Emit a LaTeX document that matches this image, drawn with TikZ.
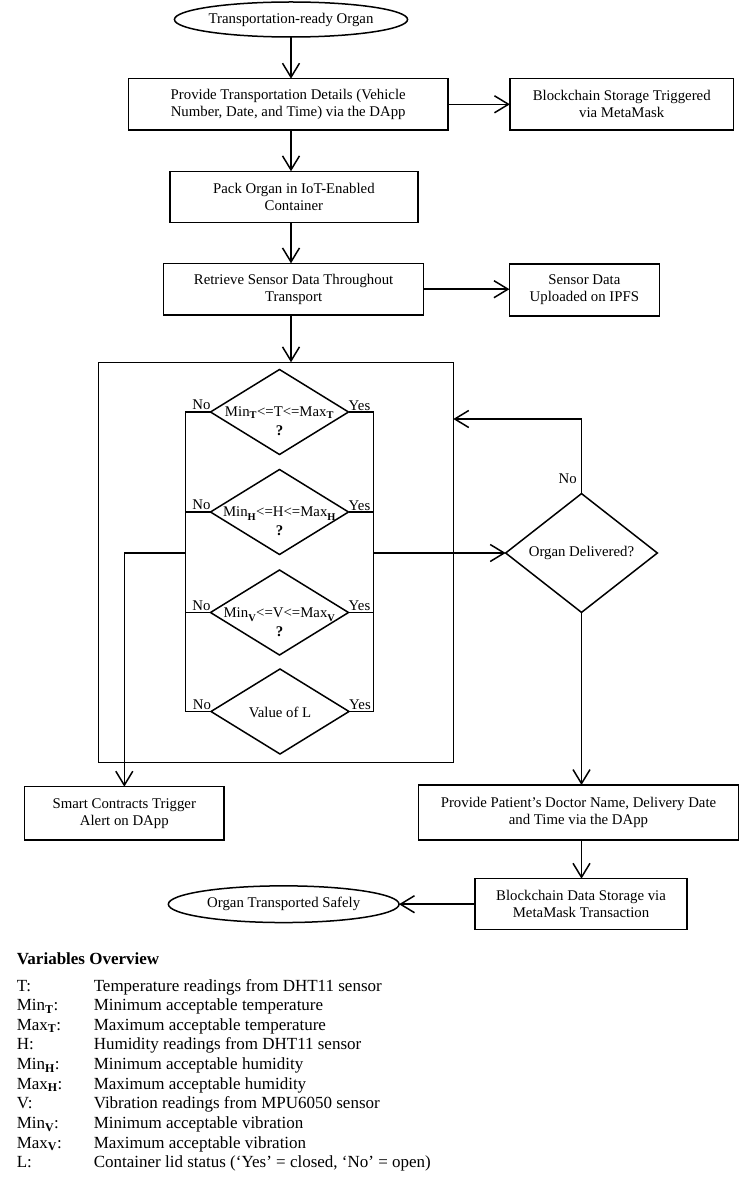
\documentclass[tikz,border=0pt]{standalone}
\usepackage{fontspec}
\setmainfont{Liberation Serif}
\usetikzlibrary{shapes.geometric,arrows.meta}
\newcommand{\sbT}[1]{\textsubscript{\textbf{#1}}}
\newcommand{\sbL}[1]{\textsubscript{\raisebox{-0.35ex}{\textbf{#1}}}}
\tikzset{
  every node/.style={font=\fontsize{14.8}{17}\selectfont},
  box/.style={draw, rectangle, align=center, inner sep=0pt, outer sep=0pt},
  term/.style={draw, ellipse, inner sep=0pt, outer sep=0pt},
  dec/.style={draw, diamond, inner sep=0pt, outer sep=0pt},
  arr/.style={-{Straight Barb[length=14pt,width=17pt]}},
  lbl/.style={inner sep=0pt},
  leg/.style={inner sep=0pt, anchor=base west, font=\fontsize{17}{19.65}\selectfont},
}
\begin{document}
\begin{tikzpicture}[x=1pt,y=-1pt,line width=1.5pt]
\useasboundingbox (0,0) rectangle (742,1182);

% top part
\node[term, minimum width=229.7pt, minimum height=35pt] (start) at (291,19.5) {Transportation-ready Organ};
\node[box, minimum width=319.8pt, minimum height=51.3pt] (b1) at (288.2,104.3) {Provide Transportation Details (Vehicle\\Number, Date, and Time) via the DApp};
\node[box, minimum width=223.6pt, minimum height=51.3pt] (bc1) at (621.7,104.3) {Blockchain Storage Triggered\\via MetaMask};
\node[box, minimum width=248pt, minimum height=51.4pt] (b2) at (293.9,197) {Pack Organ in IoT-Enabled\\Container};
\node[box, minimum width=260pt, minimum height=51.7pt] (b3) at (293.6,289.2) {Retrieve Sensor Data Throughout\\Transport};
\node[box, minimum width=150pt, minimum height=52pt] (ipfs) at (584.4,290) {Sensor Data\\Uploaded on IPFS};

\draw[arr] (start.south) -- (start.south |- b1.north);
\draw[arr] (b1.south -| start.south) -- (start.south |- b2.north);
\draw[arr] (b2.south -| start.south) -- (start.south |- b3.north);
\draw[arr] (b1.east) -- (b1.east -| bc1.west);
\draw[arr] (b3.east) -- (b3.east -| ipfs.west);

% frame
\node[draw, rectangle, inner sep=0pt, outer sep=0pt, minimum width=355pt, minimum height=400.4pt] (frame) at (275.8,562.5) {};
\draw[arr] (b3.south -| start.south) -- (start.south |- frame.north);

% diamonds
\node[dec, minimum width=138pt, minimum height=85pt] (d1) at (279.5,412) {};
\node[dec, minimum width=138pt, minimum height=85pt] (d2) at (279.5,512) {};
\node[dec, minimum width=138pt, minimum height=85pt] (d3) at (279.5,612.5) {};
\node[dec, minimum width=138pt, minimum height=85pt] (d4) at (280,711.5) {};

\node[lbl, align=center, font=\fontsize{14.8}{19}\selectfont] (t1) at (279.5,421.5) {Min\sbT{T}<=T<=Max\sbT{T}\\\textbf{?}};
\node[lbl, align=center, font=\fontsize{14.8}{19}\selectfont] (t2) at (279.5,521.5) {Min\sbL{H}<=H<=Max\sbL{H}\\\textbf{?}};
\node[lbl, align=center, font=\fontsize{14.8}{19}\selectfont] (t3) at (279.5,622) {Min\sbL{V}<=V<=Max\sbL{V}\\\textbf{?}};
\node[lbl] (t4) at (280,712.5) {Value of L};

\coordinate (lbus) at (185.7,0);
\coordinate (rbus) at (373.7,0);
\draw (d1.west) -- (d1.west -| lbus) -- (d4.west -| lbus) -- (d4.west);
\draw (d2.west) -- (d2.west -| lbus);
\draw (d3.west) -- (d3.west -| lbus);
\draw (d1.east) -- (d1.east -| rbus) -- (d4.east -| rbus) -- (d4.east);
\draw (d2.east) -- (d2.east -| rbus);
\draw (d3.east) -- (d3.east -| rbus);

\foreach \d in {d1,d2,d3,d4}{
  \node[lbl] at ([xshift=-9pt,yshift=7pt]\d.west) {No};
  \node[lbl] at ([xshift=11pt,yshift=6.5pt]\d.east) {Yes};
}

% right decision
\node[dec, minimum width=151.7pt, minimum height=113.3pt] (od) at (581.5,553) {Organ Delivered?};
\coordinate (exL) at (185.7,553);
\coordinate (exR) at (373.7,553);
\coordinate (nl) at (453.3,419);
\draw[arr] (exR) -- (od.west);
\draw[arr] (od.north) |- (nl);
\node[lbl] (nolab) at (567.7,478.3) {No};

% bottom boxes
\node[box, minimum width=199.5pt, minimum height=53.3pt] (sc) at (124.3,813.3) {Smart Contracts Trigger\\Alert on DApp};
\draw[arr] (exL) -| (sc.north);
\node[box, minimum width=320.3pt, minimum height=55pt] (pat) at (578.5,812.5) {Provide Patient’s Doctor Name, Delivery Date\\and Time via the DApp};
\draw[arr] (od.south) -- (od.south |- pat.north);
\node[box, minimum width=212pt, minimum height=51pt] (bds) at (581,904.2) {Blockchain Data Storage via\\MetaMask Transaction};
\draw[arr] (pat.south -| od.south) -- (od.south |- bds.north);
\node[term, minimum width=230.7pt, minimum height=36.7pt] (end) at (283.7,904.2) {Organ Transported Safely};
\draw[arr] (bds.west) -- (end.east);

% legend
\node[leg, font=\fontsize{17}{19.65}\selectfont\bfseries] (legt) at (16,964.3) {Variables Overview};
\foreach \i/\a/\b in {0/{T:}/{Temperature readings from DHT11 sensor},
  1/{Min\sbT{T}:}/{Minimum acceptable temperature},
  2/{Max\sbT{T}:}/{Maximum acceptable temperature},
  3/{H:}/{Humidity readings from DHT11 sensor},
  4/{Min\sbT{H}:}/{Minimum acceptable humidity},
  5/{Max\sbT{H}:}/{Maximum acceptable humidity},
  6/{V:}/{Vibration readings from MPU6050 sensor},
  7/{Min\sbT{V}:}/{Minimum acceptable vibration},
  8/{Max\sbT{V}:}/{Maximum acceptable vibration},
  9/{L:}/{Container lid status (‘Yes’ = closed, ‘No’ = open)}}{
  \node[leg] (la\i) at (16,{991+19.65*\i}) {\a};
  \node[leg] (lb\i) at (93,{991+19.65*\i}) {\b};
}
\end{tikzpicture}
\end{document}
